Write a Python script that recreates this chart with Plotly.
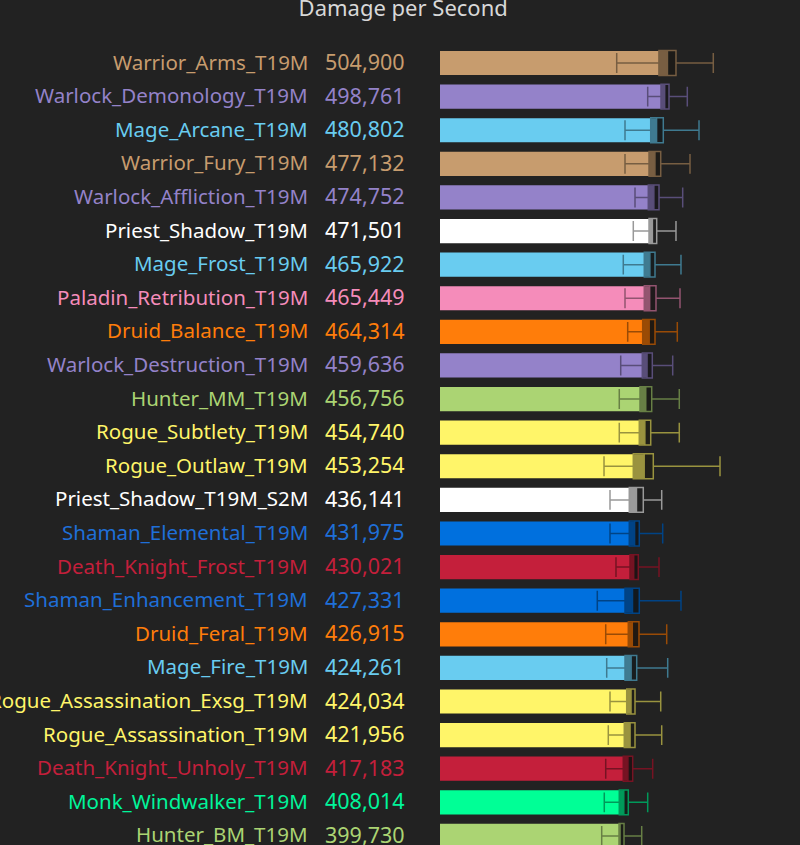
import plotly.graph_objects as go

# ---- data ----
names = [
    "Warrior_Arms_T19M", "Warlock_Demonology_T19M", "Mage_Arcane_T19M", "Warrior_Fury_T19M",
    "Warlock_Affliction_T19M", "Priest_Shadow_T19M", "Mage_Frost_T19M", "Paladin_Retribution_T19M",
    "Druid_Balance_T19M", "Warlock_Destruction_T19M", "Hunter_MM_T19M", "Rogue_Subtlety_T19M",
    "Rogue_Outlaw_T19M", "Priest_Shadow_T19M_S2M", "Shaman_Elemental_T19M", "Death_Knight_Frost_T19M",
    "Shaman_Enhancement_T19M", "Druid_Feral_T19M", "Mage_Fire_T19M", "Rogue_Assassination_Exsg_T19M",
    "Rogue_Assassination_T19M", "Death_Knight_Unholy_T19M", "Monk_Windwalker_T19M", "Hunter_BM_T19M",
]
dps = [504900, 498761, 480802, 477132, 474752, 471501, 465922, 465449, 464314, 459636, 456756, 454740,
       453254, 436141, 431975, 430021, 427331, 426915, 424261, 424034, 421956, 417183, 408014, 399730]
q1 = [486000, 490600, 467800, 464000, 462400, 464000, 453500, 453500, 450000, 449100, 444000, 442400,
      429100, 420200, 420200, 421800, 410700, 418000, 410700, 414500, 409100, 406900, 398000, 397400]
q3 = [523900, 508400, 495700, 490000, 486200, 481100, 477300, 479500, 477300, 471300, 470000, 467800,
      473500, 451300, 442400, 440200, 442400, 441800, 436700, 432900, 432900, 427800, 418000, 408500]
whisker_low = [392300, 461100, 410700, 410700, 432900, 429100, 406900, 410700, 416700, 401200, 398000, 398000,
               364100, 377400, 377400, 390700, 349200, 367900, 370100, 377400, 373600, 367900, 364700, 359000]
whisker_high = [606700, 549000, 575000, 555000, 538800, 523900, 535000, 532800, 526800, 516600, 531200, 531200,
                621600, 492200, 494400, 486200, 535000, 503300, 505500, 490000, 492200, 472200, 461100, 447800]

class_colors = {
    "Warrior": "#C79C6E", "Warlock": "#9482C9", "Mage": "#69CCF0", "Priest": "#FFFFFF",
    "Paladin": "#F58CBA", "Druid": "#FF7D0A", "Hunter": "#ABD473", "Rogue": "#FFF569",
    "Shaman": "#0070DE", "Death": "#C41F3B", "Monk": "#00FF96",
}
text_colors = {
    "Warrior": "#C79C6E", "Warlock": "#9482C9", "Mage": "#69CCF0", "Priest": "#FFFFFF",
    "Paladin": "#F58CBA", "Druid": "#FF7D0A", "Hunter": "#ABD473", "Rogue": "#FFF569",
    "Shaman": "#1F6FD8", "Death": "#C41F3B", "Monk": "#00F59A",
}

def hex_rgb(h):
    h = h.lstrip("#")
    return tuple(int(h[i:i + 2], 16) for i in (0, 2, 4))

def scale(h, k, a=None):
    r, g, b = (int(round(c * k)) for c in hex_rgb(h))
    if a is None:
        return f"rgb({r},{g},{b})"
    return f"rgba({r},{g},{b},{a})"

idx = list(range(len(names)))
cls = [n.split("_")[0] for n in names]
colors = [class_colors[c] for c in cls]

fig = go.Figure()
fig.add_trace(go.Bar(
    x=dps, y=idx, orientation="h", width=0.72,
    marker=dict(color=colors, line=dict(width=0)),
    hoverinfo="skip",
))
for i in idx:
    c = colors[i]
    fig.add_trace(go.Box(
        y=[i], q1=[q1[i]], median=[dps[i]], q3=[q3[i]],
        lowerfence=[whisker_low[i]], upperfence=[whisker_high[i]],
        orientation="h", width=0.74, whiskerwidth=0.8,
        fillcolor=scale(c, 0.12, 0.45),
        line=dict(color=scale(c, 0.6), width=1.5),
        hoverinfo="skip", showlegend=False,
    ))

FONT = "Noto Sans"
annotations = []
for i in idx:
    tc = text_colors[cls[i]]
    annotations.append(dict(
        x=-0.3714, xref="paper", y=i, yref="y", yshift=1.5, text=names[i], showarrow=False,
        xanchor="right", yanchor="middle", font=dict(size=20.5, color=tc, family=FONT),
    ))
    annotations.append(dict(
        x=-0.3343, xref="paper", y=i, yref="y", yshift=1.5, text=f"{dps[i]:,}", showarrow=False,
        xanchor="left", yanchor="middle", font=dict(size=21.5, color=tc, family=FONT),
    ))

fig.update_layout(
    width=800, height=845,
    margin=dict(l=440, r=10, t=40, b=0),
    paper_bgcolor="#222222", plot_bgcolor="#222222",
    title=dict(text="Damage per Second", x=0.504, xanchor="center", y=1 - 8 / 845, yref="container",
               yanchor="middle", font=dict(size=22, color="#d8d8d8", family=FONT)),
    barmode="overlay", boxmode="overlay",
    showlegend=False, hovermode=False,
    xaxis=dict(range=[0, 777000], visible=False, showgrid=False, zeroline=False),
    yaxis=dict(range=[23.27, -0.685], visible=False, showgrid=False, zeroline=False),
    annotations=annotations,
)

fig.write_html("out.html", config={"displayModeBar": False},
               post_script="document.body.style.margin='0';document.body.style.background='#222222';")
